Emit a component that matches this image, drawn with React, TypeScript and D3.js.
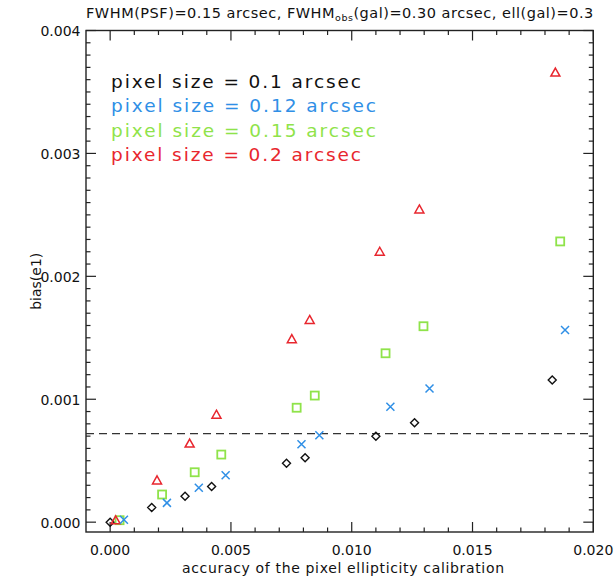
import React from "react";
import * as d3 from "d3";

const blackX = [0, 0.00172, 0.0031, 0.0042, 0.0073, 0.00807, 0.011, 0.0126, 0.0183];
const blackY = [0, 0.000119, 0.000211, 0.00029, 0.00048, 0.000525, 0.000699, 0.000808, 0.001157];
const blueX = [0.00057, 0.00235, 0.00367, 0.00478, 0.00792, 0.00866, 0.0116, 0.01322, 0.01883];
const blueY = [0.00002, 0.000157, 0.00028, 0.000381, 0.000634, 0.000707, 0.000939, 0.001088, 0.001563];
const greenX = [0.00039, 0.00215, 0.0035, 0.0046, 0.00772, 0.00847, 0.0114, 0.01297, 0.01863];
const greenY = [0.000016, 0.000225, 0.000406, 0.00055, 0.000931, 0.00103, 0.001374, 0.001594, 0.002284];
const redX = [0.00023, 0.00194, 0.00329, 0.0044, 0.00752, 0.00826, 0.01116, 0.0128, 0.01843];
const redY = [0.000015, 0.00034, 0.000639, 0.000874, 0.001489, 0.001645, 0.0022, 0.002544, 0.003658];

const legendLabels = [
  "pixel size = 0.1 arcsec",
  "pixel size = 0.12 arcsec",
  "pixel size = 0.15 arcsec",
  "pixel size = 0.2 arcsec",
];
const xTickLabels = ["0.000", "0.005", "0.010", "0.015", "0.020"];
const yTickLabels = ["0.000", "0.001", "0.002", "0.003", "0.004"];
const thresholdY = 0.00072;

const COL = { black: "#111", blue: "#2f8fe6", green: "#8fe34a", red: "#e8262e" };
const FONT = "'DejaVu Sans', sans-serif";

export default function App() {
  const x = d3.scaleLinear().domain([-0.001, 0.02]).range([86, 593.3]);
  const y = d3.scaleLinear().domain([-0.00008, 0.004]).range([532, 30.5]);
  const [x0, x1] = x.range();
  const [yb, yt] = y.range();

  const xMajor = xTickLabels.map(Number);
  const xMinor = d3.range(0, 21).map((i) => i * 0.001);
  const yMajor = yTickLabels.map(Number);
  const yMinor = d3.range(0, 41).map((i) => i * 0.0001);

  const axisColor = "#222";
  const ticks: JSX.Element[] = [];
  xMinor.forEach((v, i) => {
    const major = xMajor.some((m) => Math.abs(m - v) < 1e-9);
    const L = major ? 10 : 4.5;
    ticks.push(<line key={"xb" + i} x1={x(v)} x2={x(v)} y1={yb} y2={yb - L} stroke={axisColor} strokeWidth={1.2} />);
    ticks.push(<line key={"xt" + i} x1={x(v)} x2={x(v)} y1={yt} y2={yt + L} stroke={axisColor} strokeWidth={1.2} />);
  });
  yMinor.forEach((v, i) => {
    const major = yMajor.some((m) => Math.abs(m - v) < 1e-9);
    const L = major ? 10 : 4.5;
    ticks.push(<line key={"yl" + i} x1={x0} x2={x0 + L} y1={y(v)} y2={y(v)} stroke={axisColor} strokeWidth={1.2} />);
    ticks.push(<line key={"yr" + i} x1={x1} x2={x1 - L} y1={y(v)} y2={y(v)} stroke={axisColor} strokeWidth={1.2} />);
  });

  const diamond = "M0,-4L4,0L0,4L-4,0Z";
  const tri = "M0,-4.5L4.5,3.5L-4.5,3.5Z";

  return (
    <svg width={616} height={581} style={{ position: "absolute", left: 0, top: 0, background: "#fff" }} fontFamily={FONT}>
      <rect x={0} y={0} width={616} height={581} fill="#fff" />
      <text x={(x0 + x1) / 2} y={17.5} fontSize={14.5} textAnchor="middle" fill="#111" textLength={x1 - x0} lengthAdjust="spacing">
        FWHM(PSF)=0.15 arcsec, FWHM<tspan fontSize={9.5} dy={3}>obs</tspan>
        <tspan dy={-3}>(gal)=0.30 arcsec, ell(gal)=0.3</tspan>
      </text>

      <rect x={x0} y={yt} width={x1 - x0} height={yb - yt} fill="none" stroke={axisColor} strokeWidth={1.4} />
      {ticks}

      {xMajor.map((v, i) => (
        <text key={"xl" + i} x={x(v)} y={555} fontSize={14} textAnchor="middle" fill="#111">{xTickLabels[i]}</text>
      ))}
      {yMajor.map((v, i) => (
        <text key={"yl" + i} x={80.5} y={y(v) + 5.5} fontSize={14} textAnchor="end" fill="#111">{yTickLabels[i]}</text>
      ))}
      <text x={343} y={573} fontSize={14} textAnchor="middle" fill="#111" textLength={322} lengthAdjust="spacing">accuracy of the pixel ellipticity calibration</text>
      <text transform={`translate(41,${(yt + yb) / 2}) rotate(-90)`} fontSize={14} textAnchor="middle" fill="#111">bias(e1)</text>

      <line x1={x0} x2={x1} y1={y(thresholdY)} y2={y(thresholdY)} stroke="#333" strokeWidth={1.3} strokeDasharray="8,5" />

      {blackX.map((v, i) => (
        <path key={"k" + i} d={diamond} transform={`translate(${x(v)},${y(blackY[i])})`} fill="none" stroke={COL.black} strokeWidth={1.4} />
      ))}
      {greenX.map((v, i) => (
        <rect key={"g" + i} x={x(v) - 4} y={y(greenY[i]) - 4} width={8} height={8} fill="none" stroke={COL.green} strokeWidth={1.8} />
      ))}
      {redX.map((v, i) => (
        <path key={"r" + i} d={tri} transform={`translate(${x(v)},${y(redY[i])})`} fill="none" stroke={COL.red} strokeWidth={1.5} />
      ))}
      {blueX.map((v, i) => (
        <path key={"b" + i} d="M-4,-4L4,4M-4,4L4,-4" transform={`translate(${x(v)},${y(blueY[i])})`} fill="none" stroke={COL.blue} strokeWidth={1.5} />
      ))}

      {legendLabels.map((t, i) => (
        <text key={"lg" + i} x={111} y={88 + i * 24.3} fontSize={18.5} fill={[COL.black, COL.blue, COL.green, COL.red][i]}
          textLength={t.length === 23 ? 250 : 265} lengthAdjust="spacing">{t}</text>
      ))}
    </svg>
  );
}
